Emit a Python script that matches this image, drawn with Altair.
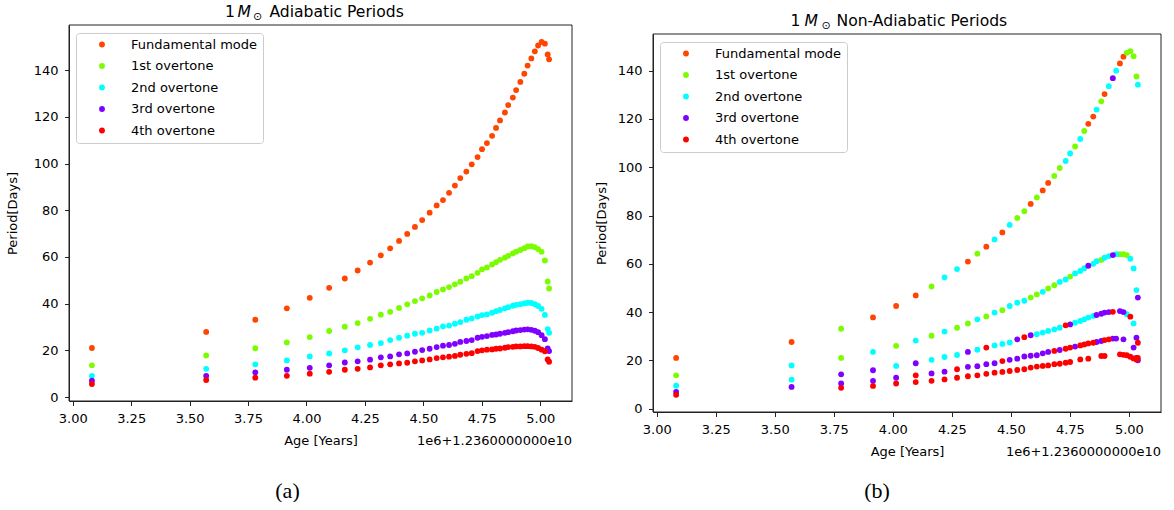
import altair as alt
import pandas as pd

MODES = ["Fundamental mode", "1st overtone", "2nd overtone", "3rd overtone", "4th overtone"]
COLORS = ["#ff4500", "#7cfc00", "#00ffff", "#7f00ff", "#ff0000"]
CODE = {"F": 0, "1": 1, "2": 2, "3": 3, "4": 4}

# Age in units of 1e6 yr, offset 1.236e10 yr
ages = [3.082, 3.571, 3.781, 3.916, 4.014, 4.097, 4.164, 4.219, 4.272, 4.318,
        4.358, 4.396, 4.431, 4.464, 4.495, 4.527, 4.557, 4.584, 4.610, 4.635,
        4.658, 4.684, 4.707, 4.732, 4.751, 4.772, 4.794, 4.811, 4.828, 4.849,
        4.863, 4.883, 4.897, 4.915, 4.932, 4.946, 4.962, 4.977, 4.991, 5.006,
        5.020, 5.032, 5.038]

# ---- (a) adiabatic periods [days]
adi_fund = [21.0, 27.9, 33.1, 38.0, 42.5, 46.8, 50.8, 54.2, 57.6, 60.7,
            63.7, 66.9, 69.9, 72.9, 75.8, 79.0, 82.1, 84.4, 87.5, 90.6,
            93.8, 96.6, 99.7, 102.8, 106.2, 108.8, 111.9, 115.3, 118.5, 121.9,
            125.1, 128.3, 131.5, 135.0, 138.5, 142.0, 145.1, 148.1, 150.6, 152.1,
            151.4, 146.8, 144.7]
adi_1st = [13.6, 17.8, 20.9, 23.4, 25.7, 28.3, 30.1, 31.7, 33.5, 35.3,
           36.5, 38.2, 39.7, 41.1, 42.3, 43.5, 45.0, 46.1, 47.1, 48.3,
           49.4, 50.8, 51.8, 53.2, 54.7, 55.5, 56.8, 57.8, 58.8, 59.7,
           60.5, 61.5, 62.3, 63.0, 63.8, 64.5, 64.6, 64.2, 63.4, 62.2,
           58.5, 49.5, 46.5]
adi_2nd = [9.1, 12.1, 14.0, 15.7, 17.4, 18.7, 20.0, 21.3, 22.3, 23.1,
           24.4, 25.4, 26.3, 27.1, 27.5, 28.5, 29.3, 30.3, 30.6, 31.4,
           32.1, 33.1, 33.7, 34.5, 35.1, 35.4, 36.1, 36.8, 37.3, 38.0,
           38.5, 39.1, 39.5, 39.8, 40.1, 40.4, 40.3, 39.8, 39.0, 37.8,
           35.2, 29.1, 27.5]
adi_3rd = [7.0, 9.1, 10.6, 11.7, 12.5, 13.6, 14.8, 15.3, 16.0, 17.0,
           17.4, 18.3, 18.7, 19.4, 20.1, 20.7, 21.4, 22.0, 22.3, 22.8,
           23.6, 24.0, 24.4, 25.4, 25.8, 26.1, 26.6, 26.8, 27.1, 27.5,
           27.8, 28.2, 28.5, 28.7, 28.9, 29.0, 28.8, 28.4, 27.8, 26.5,
           24.8, 20.8, 19.7]
adi_4th = [5.6, 7.3, 8.3, 9.1, 10.0, 10.8, 11.7, 12.1, 12.7, 13.6,
           14.0, 14.4, 14.7, 15.3, 15.7, 16.1, 16.7, 17.0, 17.3, 17.6,
           18.1, 18.5, 18.8, 19.7, 20.0, 20.3, 20.4, 20.7, 20.8, 21.1,
           21.4, 21.5, 21.7, 21.7, 21.8, 21.8, 21.7, 21.5, 21.0, 20.3,
           19.6, 16.1, 15.1]

# ---- (b) non-adiabatic periods [days]: five branches (highest to lowest),
# each point tagged with the mode whose colour is seen there ('-' = no point)
non_b1 = [21.0, 27.6, 33.1, 37.8, 42.5, 46.9, 50.6, 54.4, 57.8, 60.9,
          64.2, 67.1, 70.1, 73.0, 76.1, 79.0, 81.8, 84.8, 87.5, 90.4,
          93.5, 96.4, 99.7, 102.6, 105.7, 108.6, 111.7, 115.0, 118.0, 121.0,
          123.9, 127.3, 130.3, 133.6, 136.9, 140.0, 143.0, 145.8, 147.4, 148.1,
          146.0, 137.6, 134.2]
non_b1_mode = "FF1FFF122F" "1F2F211F1F" "F1122121FF" "21F232FF11" "112"
non_b2 = [13.8, 17.9, 21.0, 23.5, 26.0, 28.2, 30.2, 31.9, 33.5, 35.3,
          37.0, 38.2, 39.8, 40.8, 42.5, 43.9, 44.7, 46.0, 47.3, 48.4,
          49.8, 51.1, 52.5, 53.5, 54.7, 56.0, 57.0, 58.2, 59.2, 60.0,
          61.1, 61.6, 62.5, 63.2, 63.6, 64.0, 64.0, 64.0, 63.6, 62.1,
          58.1, 49.1, 46.0]
non_b2_mode = "1212121211" "2121222112" "1122122232" "2122321112" "223"
non_b3 = [9.5, 12.0, 14.2, 15.9, 17.7, 18.8, 20.2, 21.4, 22.2, 23.5,
          24.4, 25.3, 26.2, 26.8, 27.4, 28.7, 29.6, 30.4, 30.8, 31.5,
          32.2, 32.8, 33.5, 34.5, 34.9, 35.6, 36.3, 37.0, 37.7, 38.4,
          38.8, 39.3, 39.8, 40.0, 40.1, None, 40.4, 40.0, 39.1, 38.1,
          35.3, 29.4, 27.3]
non_b3_mode = "2233232223" "2422234322" "2224322222" "33334-3324" "234"
non_b4 = [6.9, 9.0, 10.4, 11.5, 12.8, 13.8, 14.6, 15.3, 16.3, 17.3,
          17.6, 18.4, 18.8, 19.7, 20.2, 20.7, 21.6, 21.9, 22.1, 22.9,
          23.5, 23.9, 24.3, 24.8, 25.3, 25.7, 26.2, 26.6, 27.0, 27.3,
          27.6, 28.0, 28.4, 28.7, 29.0, 29.0, None, 28.7, None, None,
          25.3, 21.0, 20.0]
non_b4_mode = "3333343343" "3334333333" "3434434444" "334433-3--" "333"
non_b5 = [5.7, None, 8.6, 9.4, 10.4, 11.0, 11.5, 12.1, 12.8, 13.4,
          13.8, 14.4, 14.9, 15.2, 15.6, 16.0, 16.3, 17.0, 17.4, 17.7,
          17.9, 18.4, 18.6, 19.0, 19.3, None, 20.4, None, 20.7, None,
          None, 21.8, 21.8, None, None, None, 22.5, 22.3, 22.1, 21.5,
          20.8, 20.3, 21.0]
non_b5_mode = "4444444444" "4444444444" "4444444444" "4444444444" "444"

XTICKS = [3.0, 3.25, 3.5, 3.75, 4.0, 4.25, 4.5, 4.75, 5.0]
YTICKS = [0, 20, 40, 60, 80, 100, 120, 140]
FONT = "DejaVu Sans"
FRAME = "#222"


def adiabatic_frame():
    rows = []
    for k, vals in enumerate([adi_fund, adi_1st, adi_2nd, adi_3rd, adi_4th]):
        for a, v in zip(ages, vals):
            rows.append({"age": a, "period": v, "mode": MODES[k], "order": k})
    return pd.DataFrame(rows)


def nonadiabatic_frame():
    rows = []
    branches = [(non_b1, non_b1_mode), (non_b2, non_b2_mode), (non_b3, non_b3_mode),
                (non_b4, non_b4_mode), (non_b5, non_b5_mode)]
    for vals, codes in branches:
        for a, v, c in zip(ages, vals, codes):
            if v is None or c == "-":
                continue
            k = CODE[c]
            rows.append({"age": a, "period": v, "mode": MODES[k], "order": k})
    return pd.DataFrame(rows)


ONE = pd.DataFrame({"t": [""]})


def text_layer(text, x, y, size=13, align="left", baseline="alphabetic",
               font=FONT, style="normal", color="#000"):
    return alt.Chart(pd.DataFrame({"t": [text]})).mark_text(
        align=align, baseline=baseline, font=font, fontSize=size,
        fontStyle=style, color=color
    ).encode(x=alt.value(x), y=alt.value(y), text="t:N")


def panel(df, width, plot_h, top, ydomain, title_word, title_dx, ytitle_pad,
          caption, cap_x, cap_y):
    height = top + plot_h
    legend = alt.Legend(
        orient="none", legendX=7, legendY=top + 8, title=None, direction="vertical",
        padding=5, symbolOffset=14.5, labelOffset=22.5, rowPadding=7.5,
        labelFont=FONT, labelFontSize=13, labelColor="#000", labelLimit=0,
        symbolSize=34, symbolType="circle", symbolStrokeWidth=0,
        strokeColor="#cccccc", fillColor="rgba(255,255,255,0.8)", cornerRadius=3,
    )
    pts = alt.Chart(df).mark_circle(size=34, opacity=1).encode(
        x=alt.X("age:Q",
                scale=alt.Scale(domain=[2.984, 5.136], nice=False, zero=False),
                axis=alt.Axis(values=XTICKS, format=".2f", title="Age [Years]",
                              labelFlush=False, labelOverlap=False,
                              titlePadding=9.5)),
        y=alt.Y("period:Q",
                scale=alt.Scale(domain=ydomain, range=[height, top],
                                nice=False, zero=False),
                axis=alt.Axis(values=YTICKS, title="Period[Days]",
                              titlePadding=ytitle_pad)),
        color=alt.Color("mode:N", scale=alt.Scale(domain=MODES, range=COLORS),
                        legend=legend),
        order=alt.Order("order:Q"),
    )
    frame = alt.Chart(ONE).mark_rect(fillOpacity=0, stroke=FRAME, strokeWidth=1).encode(
        x=alt.value(0), x2=alt.value(width), y=alt.value(top), y2=alt.value(height)
    )
    cx = width / 2
    ty = top - 7.8
    d1, dM, dO, dW = title_dx
    layers = [
        pts,
        frame,
        text_layer(" ", cx, -22, baseline="top"),
        text_layer("1", cx + d1, ty, size=15.6),
        text_layer("M", cx + dM, ty, size=15.6, style="italic"),
        text_layer("\u2299", cx + dO, ty + 2.5, size=11),
        text_layer(title_word, cx + dW, ty, size=15.6),
        text_layer("1e6+1.2360000000e10", width, height + 40, align="right",
                   baseline="middle"),
        text_layer(caption, cap_x, cap_y, size=22, align="center",
                   baseline="middle", font="Liberation Serif"),
    ]
    return alt.layer(*layers).properties(width=width, height=height)


left = panel(adiabatic_frame(), 503, 376, 0, [-1.7, 159.4], "Adiabatic Periods",
             (-95.5, -82.9, -67.5, -51.1), 14, "(a)", 218.5, 466)
right = panel(nonadiabatic_frame(), 508, 378, 9, [-1.4, 155.2], "Non-Adiabatic Periods",
              (-116.6, -102.6, -85.6, -70.5), 9, "(b)", 224, 466)

chart = alt.hconcat(left, right, spacing=22).resolve_scale(
    color="independent"
).properties(
    padding={"left": 6, "top": 3, "right": 0, "bottom": 0},
    background="white",
).configure_view(
    strokeOpacity=0
).configure_axis(
    grid=False, domainColor=FRAME, tickColor=FRAME, domainWidth=1, tickWidth=1,
    tickSize=4.5, labelPadding=6.5, labelFont=FONT, labelFontSize=13,
    labelColor="#000", titleFont=FONT, titleFontSize=13,
    titleFontWeight="normal", titleColor="#000",
)

chart.save("out.html", embed_options={"renderer": "svg", "actions": False})
